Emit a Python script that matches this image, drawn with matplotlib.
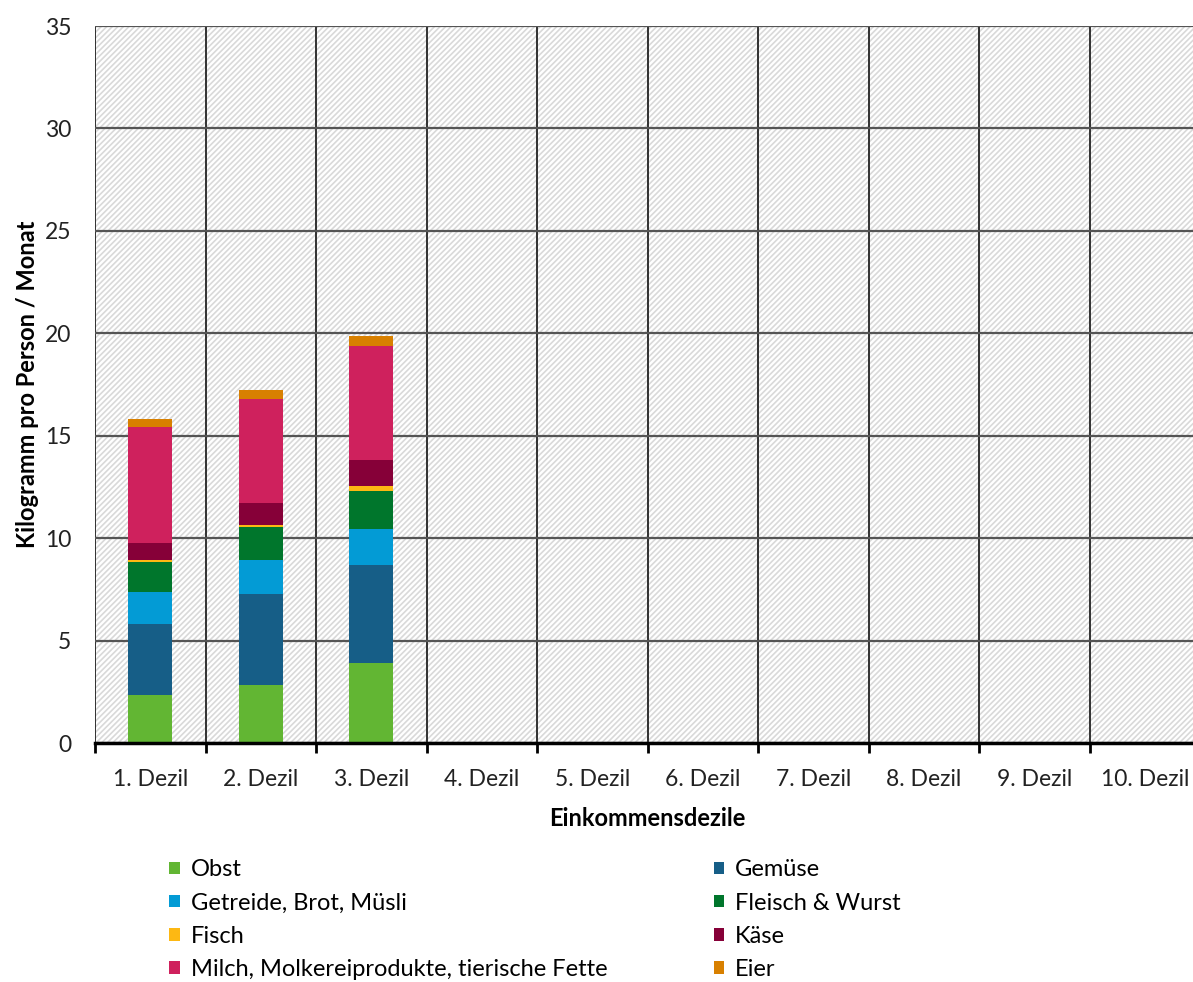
import numpy as np
import matplotlib
matplotlib.use("Agg")
import matplotlib.pyplot as plt
from matplotlib.ticker import MultipleLocator

plt.rcParams['font.family'] = ['Lato', 'DejaVu Sans']
plt.rcParams['hatch.linewidth'] = 1.2

# Einkommensdezile (nur die ersten drei mit Werten)
dezile = ['1. Dezil', '2. Dezil', '3. Dezil', '4. Dezil', '5. Dezil',
          '6. Dezil', '7. Dezil', '8. Dezil', '9. Dezil', '10. Dezil']

# kg pro Person und Monat, je Dezil
obst = [2.34, 2.82, 3.92]
gemuese = [3.47, 4.44, 4.78]
getreide = [1.56, 1.69, 1.76]
fleisch = [1.45, 1.58, 1.82]
fisch = [0.13, 0.11, 0.25]
kaese = [0.80, 1.09, 1.27]
milch = [5.69, 5.04, 5.59]
eier = [0.36, 0.47, 0.49]

gruppen = ['Obst', 'Gemüse', 'Getreide, Brot, Müsli', 'Fleisch & Wurst',
           'Fisch', 'Käse', 'Milch, Molkereiprodukte, tierische Fette', 'Eier']
farben = ['#62b633', '#165e87', '#039bd5', '#00762c',
          '#fdb813', '#860038', '#cf215d', '#d88000']
werte = [obst, gemuese, getreide, fleisch, fisch, kaese, milch, eier]

fig = plt.figure(figsize=(11.93, 9.82), dpi=100)
ax = fig.add_axes([95 / 1193, 1 - 743 / 982, 1105 / 1193, 717 / 982])

# schraffierter Hintergrund
ax.patch.set_facecolor('white')
ax.patch.set_edgecolor('#d9d9d9')
ax.patch.set_hatch('//////')
ax.patch.set_linewidth(0)

x = np.arange(len(obst))
unten = np.zeros(len(obst))
balken = []
for name, farbe, w in zip(gruppen, farben, werte):
    b = ax.bar(x, w, 0.4, bottom=unten, color=farbe, label=name, zorder=3)
    balken.append(b)
    unten += np.array(w)

ax.set_xlim(-0.5, len(dezile) - 0.5)
ax.set_ylim(0, 35)
ax.yaxis.set_major_locator(MultipleLocator(5))
ax.set_xticks(np.arange(len(dezile)))
ax.set_xticklabels(dezile)
ax.set_xticks(np.arange(len(dezile) + 1) - 0.5, minor=True)

ax.tick_params(axis='x', which='major', length=0, pad=19, labelsize=16.5, colors='#222222')
ax.tick_params(axis='x', which='minor', length=7, width=2, color='black', direction='out')
ax.tick_params(axis='y', length=0, pad=17, labelsize=16.5, colors='#222222')

ax.grid(axis='y', which='major', color='#555555', linewidth=1.6, zorder=1)
ax.grid(axis='x', which='minor', color='#222222', linewidth=1.3, zorder=1)
ax.set_axisbelow(True)
for s in ['top', 'right', 'left']:
    ax.spines[s].set_visible(False)
ax.spines['bottom'].set_linewidth(2.5)
ax.spines['bottom'].set_zorder(4)

ax.set_ylabel('Kilogramm pro Person / Monat', fontsize=17, fontweight='bold', labelpad=4)
ax.set_xlabel('Einkommensdezile', fontsize=17, fontweight='bold', labelpad=12)

reihenfolge = [0, 2, 4, 6, 1, 3, 5, 7]
fig.legend([balken[i] for i in reihenfolge], [gruppen[i] for i in reihenfolge],
           ncol=2, frameon=False, loc='upper left', bbox_to_anchor=(148 / 1193, 1 - 838 / 982),
           fontsize=17, handlelength=0.44, handleheight=0.44, handletextpad=0.47,
           labelspacing=0.52, columnspacing=4.5)

fig.savefig('out.png', dpi=100)
